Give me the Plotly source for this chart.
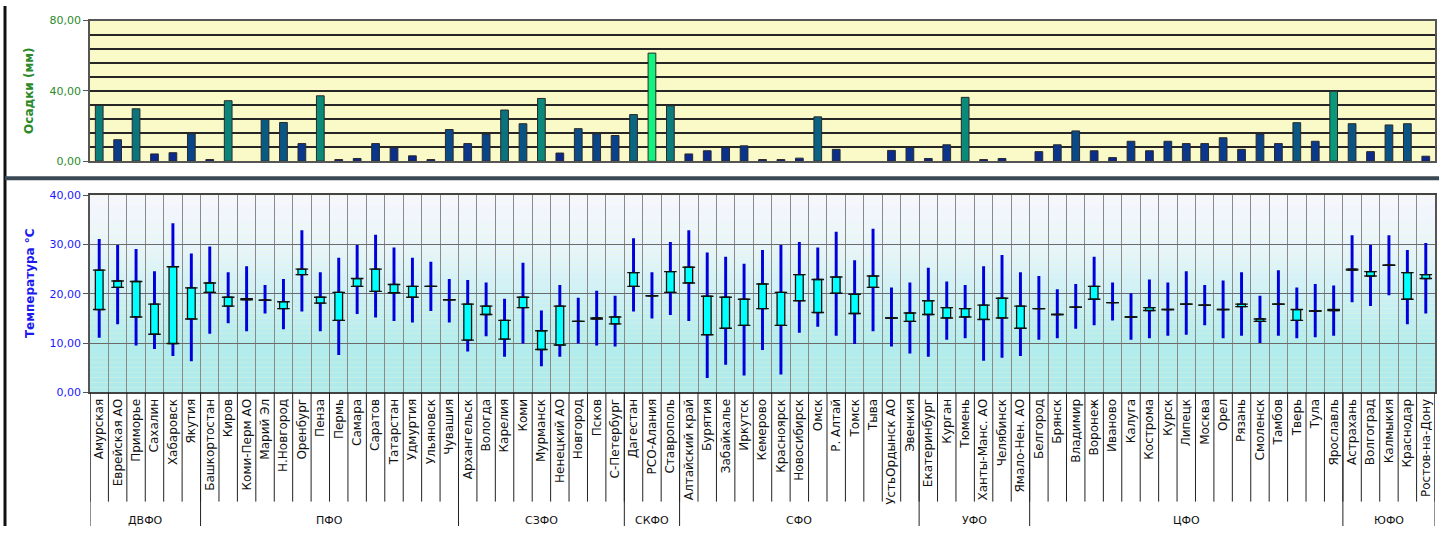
import plotly.graph_objects as go

# ---------------- DATA ----------------
districts = ["ДВФО", "ПФО", "СЗФО", "СКФО", "СФО", "УФО", "ЦФО", "ЮФО"]
district_regions = [
    ["Амурская", "Еврейская АО", "Приморье", "Сахалин", "Хабаровск", "Якутия"],
    ["Башкортостан", "Киров", "Коми-Перм АО", "Марий Эл", "Н.Новгород", "Оренбург",
     "Пенза", "Пермь", "Самара", "Саратов", "Татарстан", "Удмуртия", "Ульяновск", "Чувашия"],
    ["Архангельск", "Вологда", "Карелия", "Коми", "Мурманск", "Ненецкий АО",
     "Новгород", "Псков", "С-Петербург"],
    ["Дагестан", "РСО-Алания", "Ставрополь"],
    ["Алтайский край", "Бурятия", "Забайкалье", "Иркутск", "Кемерово", "Красноярск",
     "Новосибирск", "Омск", "Р. Алтай", "Томск", "Тыва", "УстьОрдынск АО", "Эвенкия"],
    ["Екатеринбург", "Курган", "Тюмень", "Ханты-Манс. АО", "Челябинск", "Ямало-Нен. АО"],
    ["Белгород", "Брянск", "Владимир", "Воронеж", "Иваново", "Калуга", "Кострома",
     "Курск", "Липецк", "Москва", "Орел", "Рязань", "Смоленск", "Тамбов", "Тверь",
     "Тула", "Ярославль"],
    ["Астрахань", "Волгоград", "Калмыкия", "Краснодар", "Ростов-на-Дону"],
]
regions = [r for grp in district_regions for r in grp]

# precipitation, mm
precip = [31.7, 12.2, 29.8, 4.1, 4.8, 15.6,
          0.9, 34.4, 0.0, 23.7, 22.0, 10.0, 37.2, 0.9, 1.5, 10.0, 7.6, 3.0, 0.9, 18.0,
          10.0, 15.4, 29.1, 21.3, 35.7, 4.6, 18.5, 15.6, 14.6,
          26.5, 61.5, 31.5,
          4.1, 5.9, 7.8, 8.7, 0.9, 0.9, 1.7, 25.2, 6.7, 0.0, 0.0, 6.1, 7.8,
          1.5, 9.3, 36.3, 0.9, 1.5, 0.0,
          5.4, 9.3, 17.2, 5.9, 2.0, 11.3, 5.9, 11.3, 10.0, 10.0, 13.3, 6.7, 15.4, 10.0, 21.9, 11.3, 39.8,
          21.3, 5.4, 20.6, 21.3, 2.8]

# temperature, °C
t_max = [31.1, 29.9, 29.1, 24.6, 34.3, 28.2,
         29.6, 24.4, 25.6, 21.8, 23.0, 32.9, 24.4, 27.3, 29.9, 32.0, 29.4, 27.3, 26.5, 23.0,
         22.8, 22.3, 19.0, 26.3, 16.6, 21.8, 19.2, 20.6, 19.6,
         31.3, 24.4, 30.5,
         32.9, 28.4, 27.5, 26.1, 28.9, 29.9, 30.5, 29.4, 32.6, 26.8, 33.2, 21.3, 22.3,
         25.3, 22.5, 21.8, 25.6, 27.9, 24.4,
         23.6, 20.9, 22.0, 27.5, 22.3, 20.1, 22.9, 22.3, 24.6, 21.8, 22.7, 24.4, 19.6, 24.8, 21.3, 22.0, 21.7,
         31.9, 29.9, 31.9, 28.9, 30.3]
t_min = [11.1, 13.8, 9.5, 8.8, 7.4, 6.3,
         11.9, 14.0, 12.4, 16.0, 12.8, 16.4, 12.4, 7.6, 15.9, 15.2, 14.5, 14.2, 16.5, 14.2,
         8.3, 11.4, 7.2, 9.9, 5.3, 7.2, 9.9, 9.5, 9.3,
         16.4, 15.0, 15.7,
         14.5, 2.9, 5.6, 3.4, 8.6, 3.6, 12.1, 13.3, 11.5, 9.8, 12.4, 9.3, 7.9,
         7.2, 10.7, 11.0, 6.4, 7.0, 7.4,
         10.7, 11.0, 12.9, 13.6, 14.6, 10.7, 11.0, 11.5, 11.7, 13.6, 11.0, 11.5, 10.0, 11.5, 11.0, 11.2, 11.5,
         18.3, 17.5, 19.7, 13.8, 16.0]
box_hi = [24.8, 22.6, 22.5, 17.9, 25.5, 21.2,
          22.2, 19.3, 19.0, 18.7, 18.4, 25.0, 19.3, 20.3, 23.1, 25.0, 21.9, 21.5, 21.5, 18.8,
          17.9, 17.5, 14.6, 19.3, 12.5, 17.5, 14.4, 15.1, 15.3,
          24.3, 19.6, 24.5,
          25.4, 19.5, 19.3, 18.9, 22.0, 20.3, 23.9, 22.9, 23.4, 19.9, 23.6, 15.1, 16.1,
          18.6, 17.2, 17.0, 17.7, 19.1, 17.5,
          17.0, 15.8, 17.3, 21.5, 18.2, 15.3, 17.2, 16.8, 17.9, 17.7, 16.8, 17.9, 14.9, 17.9, 16.8, 16.5, 16.8,
          25.0, 24.5, 25.8, 24.3, 23.9]
box_lo = [16.8, 21.3, 15.3, 11.8, 9.9, 14.9,
          20.3, 17.5, 18.8, 18.7, 17.0, 23.9, 18.1, 14.6, 21.5, 20.5, 20.2, 19.3, 21.5, 18.8,
          10.6, 15.8, 10.8, 17.2, 8.7, 9.6, 14.4, 14.9, 13.9,
          21.5, 19.6, 20.3,
          22.2, 11.7, 13.0, 13.6, 17.0, 13.6, 18.6, 16.2, 20.1, 16.0, 21.3, 15.1, 14.4,
          15.8, 15.1, 15.3, 14.8, 15.1, 13.0,
          17.0, 15.8, 17.3, 18.9, 18.2, 15.3, 16.6, 16.8, 17.9, 17.7, 16.8, 17.4, 14.4, 17.9, 14.6, 16.5, 16.6,
          24.8, 23.6, 25.8, 18.9, 23.1]

# ---------------- LAYOUT CONSTANTS ----------------
W, H = 1447, 533
PX0, PX1 = 90, 1435            # plot area, px from left
TOP_Y0, TOP_Y1 = 15, 159       # top panel, px from top
BOT_Y0, BOT_Y1 = 194, 396      # bottom panel, px from top
LABEL_DEPTH = 112              # px of rotated-label zone


def fx(px):
    return px / W


def fy(py):
    return (H - py) / H


xdom = [fx(PX0), fx(PX1)]
n = len(regions)
xrange_ = [-0.5, n - 0.5]

fig = go.Figure()

# Precipitation bars (no mark drawn for zero values)
fig.add_trace(go.Bar(
    x=regions, y=[v if v > 0 else None for v in precip], width=0.42, xaxis="x", yaxis="y",
    marker=dict(color=precip, cmin=0, cmax=62,
                colorscale=[[0.0, "#0a1e8e"], [0.2, "#0a3c8a"], [0.38, "#0a5a84"],
                            [0.52, "#0b807c"], [0.6, "#0a8c78"], [1.0, "#14f57e"]],
                line=dict(color="#2a2a2a", width=1)),
    showlegend=False,
))

# Temperature whiskers (min-max)
fig.add_trace(go.Bar(
    x=regions, y=[hi - lo for hi, lo in zip(t_max, t_min)], base=t_min,
    width=0.16, xaxis="x2", yaxis="y2",
    marker=dict(color="#0000dc", line=dict(width=0)), showlegend=False,
))
# Temperature boxes
fig.add_trace(go.Bar(
    x=regions, y=[hi - lo for hi, lo in zip(box_hi, box_lo)], base=box_lo,
    width=0.42, xaxis="x2", yaxis="y2",
    marker=dict(color="#00ffff", line=dict(color="#111111", width=1.3)), showlegend=False,
))
# box edges / dashes
for vals in (box_hi, box_lo):
    fig.add_trace(go.Scatter(
        x=regions, y=vals, mode="markers", xaxis="x2", yaxis="y2",
        marker=dict(symbol="line-ew", size=9, line=dict(color="#111111", width=1.4)),
        showlegend=False, hoverinfo="skip",
    ))

shapes = []
# bottom panel background gradient
stops = [(0, (176, 234, 234)), (10, (180, 236, 236)), (20, (206, 241, 244)),
         (30, (232, 245, 250)), (40, (246, 247, 253))]
steps = 40
for i in range(steps):
    v0 = 40 * i / steps
    v1 = 40 * (i + 1) / steps
    vm = (v0 + v1) / 2
    for (a, ca), (b, cb) in zip(stops[:-1], stops[1:]):
        if a <= vm <= b:
            t = (vm - a) / (b - a)
            c = tuple(int(round(ca[k] + (cb[k] - ca[k]) * t)) for k in range(3))
            break
    shapes.append(dict(type="rect", xref="x2 domain", yref="y2", x0=0, x1=1, y0=v0, y1=v1,
                       fillcolor="rgb(%d,%d,%d)" % c, line=dict(width=0), layer="below"))

# separators in the category label zone
depth = LABEL_DEPTH / (BOT_Y1 - BOT_Y0)
for i in range(n + 1):
    shapes.append(dict(type="line", xref="x2", yref="y2 domain", x0=i - 0.5, x1=i - 0.5,
                       y0=0, y1=-depth, line=dict(color="#222222", width=1)))
# district dividers and labels
annotations = []
start = 0
for name, grp in zip(districts, district_regions):
    end = start + len(grp)
    shapes.append(dict(type="line", xref="x2", yref="paper", x0=start - 0.5, x1=start - 0.5,
                       y0=fy(BOT_Y1), y1=0, line=dict(color="#222222", width=1)))
    annotations.append(dict(x=(start + end - 1) / 2, y=fy(527), xref="x2", yref="paper",
                            xanchor="center", yanchor="middle",
                            text=name, showarrow=False,
                            font=dict(size=11, color="#111111", family="DejaVu Sans")))
    start = end
shapes.append(dict(type="line", xref="x2", yref="paper", x0=n - 0.5, x1=n - 0.5,
                   y0=fy(BOT_Y1), y1=0, line=dict(color="#222222", width=1)))

# frame: left bar and middle divider band
shapes.append(dict(type="line", xref="paper", yref="paper", x0=fx(5), x1=fx(5), y0=0, y1=1,
                   line=dict(color="#111111", width=3)))
shapes.append(dict(type="rect", xref="paper", yref="paper", x0=fx(5), x1=fx(1439),
                   y0=fy(178.5), y1=fy(174.5), fillcolor="#3b4954", line=dict(width=0)))

# axis titles
annotations.append(dict(x=fx(29), y=fy(87), xref="paper", yref="paper", text="<b>Осадки (мм)</b>",
                        xanchor="center", yanchor="middle",
                        textangle=-90, showarrow=False,
                        font=dict(size=12, color="#2a8a2a", family="DejaVu Sans")))
annotations.append(dict(x=fx(30), y=fy(284), xref="paper", yref="paper", text="<b>Температура °С</b>",
                        xanchor="center", yanchor="middle",
                        textangle=-90, showarrow=False,
                        font=dict(size=12, color="#1a1aee", family="DejaVu Sans")))

fig.update_layout(
    width=W, height=H, margin=dict(l=0, r=0, t=0, b=0, pad=0), autosize=False,
    paper_bgcolor="white", plot_bgcolor="#fafac9",
    barmode="overlay", showlegend=False, separators=",.",
    font=dict(family="DejaVu Sans", size=11, color="#111111"),
    xaxis=dict(domain=xdom, anchor="y", type="category", categoryarray=regions,
               categoryorder="array", range=xrange_, showticklabels=False, ticks="",
               showgrid=False, showline=True, linecolor="#555555", linewidth=1.5, mirror=True),
    yaxis=dict(domain=[fy(TOP_Y1), fy(TOP_Y0)], anchor="x", range=[0, 80], tick0=0, dtick=40,
               tickformat=".2f", showgrid=True, gridcolor="#262626", gridwidth=1.5,
               minor=dict(tick0=0, dtick=8, showgrid=True, gridcolor="#262626", gridwidth=1.5),
               ticks="outside", ticklen=5, tickcolor="#555555",
               tickfont=dict(size=11, color="#2a8a2a"), zeroline=False,
               showline=True, linecolor="#555555", linewidth=1.5, mirror=True),
    xaxis2=dict(domain=xdom, anchor="y2", type="category", categoryarray=regions,
                categoryorder="array", range=xrange_, tickmode="linear", tick0=0, dtick=1,
                tickangle=-90, tickfont=dict(size=12, color="#111111"), ticks="",
                tickson="boundaries", showgrid=True, gridcolor="#8a8a8a", gridwidth=1,
                showline=True, linecolor="#444444", linewidth=1.5, mirror=True),
    yaxis2=dict(domain=[fy(BOT_Y1), fy(BOT_Y0)], anchor="x2", range=[0, 40], tick0=0, dtick=10,
                tickformat=".2f", showgrid=True, gridcolor="#6a6a6a", gridwidth=1,
                ticks="outside", ticklen=5, tickcolor="#555555",
                tickfont=dict(size=11, color="#1a1aff"), zeroline=False,
                showline=True, linecolor="#555555", linewidth=1.5, mirror=True),
    shapes=shapes, annotations=annotations,
)

fig.write_html("out.html", config={"displayModeBar": False},
               post_script="document.body.style.margin='0';document.body.style.overflow='hidden';")
